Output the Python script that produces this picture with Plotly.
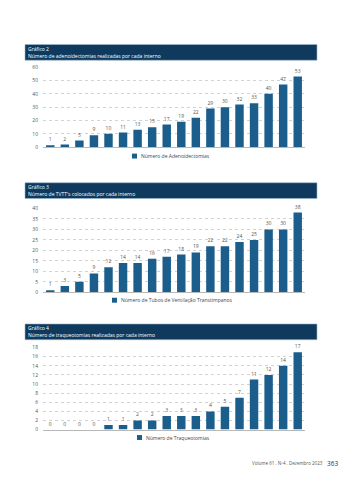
import plotly.graph_objects as go

# ---------------- data ----------------
interns = [str(i) for i in range(1, 19)]
adeno = [1, 2, 5, 9, 10, 11, 13, 15, 17, 19, 22, 29, 30, 32, 33, 40, 47, 53]
tvtt = [1, 3, 5, 9, 12, 14, 14, 16, 17, 18, 19, 22, 22, 24, 25, 30, 30, 38]
traq = [0, 0, 0, 0, 1, 1, 2, 2, 3, 3, 3, 4, 5, 7, 11, 12, 14, 17]

titles = ["Gráfico 2", "Gráfico 3", "Gráfico 4"]
subtitles = [
    "Número de adenoidectomias realizadas por cada interno",
    "Número de TVTT's colocados por cada interno",
    "Número de traqueotomias realizadas por cada interno",
]
series_names = [
    "Número de Adenoidectomias",
    "Número de Tubos de Ventilação Transtimpanos",
    "Número de Traqueotomias",
]
yticks = [list(range(0, 61, 10)), list(range(0, 41, 5)), list(range(0, 19, 2))]
yranges = [[0, 60], [0, 40], [0, 18]]
footer = "Volume 61 . Nº4 . Dezembro 2023"
page = "363"

W, H = 342, 480
BAR = "#1b5e8c"
HEAD = "#0f3a5e"
FONT = "Open Sans"

def py(p):
    return 1 - p / H

def px(p):
    return p / W

# pixel geometry: (y of zero, y of top gridline, header top, header bottom, legend y, legend square x)
geo = [
    (146, 65, 42, 58, 155, 132),
    (293, 208, 182, 198, 301, 112),
    (432, 349, 325, 341, 440, 137),
]
xdom = [px(43), px(305)]

fig = go.Figure()
shapes, annotations = [], []
data_sets = [adeno, tvtt, traq]
for i, vals in enumerate(data_sets):
    n = "" if i == 0 else str(i + 1)
    fig.add_trace(go.Bar(
        x=interns, y=vals, name=series_names[i],
        marker=dict(color=BAR, line=dict(width=0)),
        text=[str(v) for v in vals], textposition="outside",
        textfont=dict(size=5, color="#555555", family=FONT),
        cliponaxis=False, showlegend=False,
        xaxis="x" + n, yaxis="y" + n,
    ))
    y0, y1, ht, hb, ly, lx = geo[i]
    fig.update_layout(**{
        "xaxis" + n: dict(domain=xdom, anchor="y" + n, showticklabels=False,
                          showgrid=False, showline=True, linecolor="#b8b8b8",
                          linewidth=1, ticks="", range=[-0.5, 17.5], fixedrange=True),
        "yaxis" + n: dict(domain=[py(y0), py(y1)], anchor="x" + n,
                          range=yranges[i], tickvals=yticks[i],
                          tickfont=dict(size=5, color="#555555", family=FONT),
                          showgrid=True, gridcolor="#d2d2d2", griddash="dot",
                          gridwidth=0.8, zeroline=False, showline=False,
                          ticks="", ticklabelstandoff=4),
    })
    shapes.append(dict(type="rect", xref="paper", yref="paper",
                       x0=px(25), x1=px(317), y0=py(hb), y1=py(ht),
                       fillcolor=HEAD, line=dict(color="#9fb8cf", width=0.6), layer="below"))
    annotations.append(dict(xref="paper", yref="paper", x=px(27), y=py(ht + 4.2),
                            text=titles[i], showarrow=False, xanchor="left", yanchor="middle",
                            borderpad=0, font=dict(size=5, color="white", family=FONT)))
    annotations.append(dict(xref="paper", yref="paper", x=px(27), y=py(ht + 11.3),
                            text=subtitles[i], showarrow=False, xanchor="left", yanchor="middle",
                            borderpad=0, font=dict(size=5, color="white", family=FONT)))
    # legend (manual)
    shapes.append(dict(type="rect", xref="paper", yref="paper",
                       x0=px(lx), x1=px(lx + 5), y0=py(ly + 2.5), y1=py(ly - 2.5),
                       fillcolor=BAR, line=dict(width=0)))
    annotations.append(dict(xref="paper", yref="paper", x=px(lx + 8), y=py(ly),
                            text=series_names[i], showarrow=False, xanchor="left", yanchor="middle",
                            borderpad=0, font=dict(size=5, color="#444444", family=FONT)))

annotations.append(dict(xref="paper", yref="paper", x=px(324), y=py(466),
                        text=footer, showarrow=False, xanchor="right", yanchor="middle",
                        borderpad=0, font=dict(size=4.5, color="#555555", family=FONT)))
annotations.append(dict(xref="paper", yref="paper", x=px(339), y=py(466),
                        text=page, showarrow=False, xanchor="right", yanchor="middle",
                        borderpad=0, font=dict(size=6.5, color="#333333", family=FONT)))

fig.update_layout(
    width=W, height=H, margin=dict(l=0, r=0, t=0, b=0),
    paper_bgcolor="white", plot_bgcolor="white",
    bargap=0.42, shapes=shapes, annotations=annotations,
    showlegend=False,
    uniformtext=dict(minsize=4, mode="show"),
)
fig.write_html("out.html", config={"displayModeBar": False})
